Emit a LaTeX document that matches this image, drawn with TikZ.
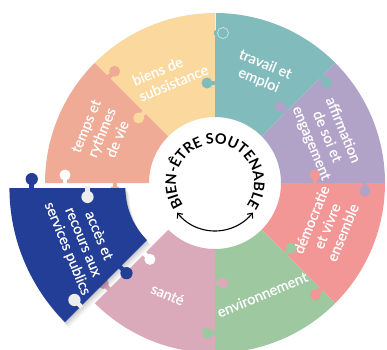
\documentclass[tikz,border=0pt]{standalone}
\usepackage{fontspec}
\setmainfont{Lato}
\newfontfamily\lblfont{Lato}[FakeBold=0.5]
\usetikzlibrary{calc,decorations.text,arrows.meta}
\definecolor{cyellow}{HTML}{FBD89E}
\definecolor{cteal}{HTML}{82BBBC}
\definecolor{cpurple}{HTML}{B1A2C8}
\definecolor{cred}{HTML}{F39796}
\definecolor{cgreen}{HTML}{9DC8A0}
\definecolor{cpink}{HTML}{DAA9BA}
\definecolor{cblue}{HTML}{233E96}
\definecolor{csalmon}{HTML}{EFAB96}
\definecolor{chole}{HTML}{EDEDED}
\newcommand\pzsector[3]{\fill[#3] (#1:66) arc[start angle=#1,end angle=#2,radius=66] -- (#2:170) arc[start angle=#2,end angle=#1,radius=170] -- cycle;}
\newcommand\pzknob[4]{%
  \fill[#4] ($(#1:#2)+(#3:8)$) circle[radius=5.5];
  \draw[#4,line width=4.5] ($(#1:#2)+(#3:-1.5)$) -- ($(#1:#2)+(#3:6)$);}
\tikzset{lbl/.style={text=white,font=\lblfont\fontsize{14.5}{17}\selectfont,align=center,inner sep=0pt}}
\begin{document}
\begin{tikzpicture}[x=1pt,y=1pt]
\useasboundingbox (-215,-166) rectangle (172,183);
% sectors
\pzsector{90}{135}{cyellow}
\pzsector{45}{90}{cteal}
\pzsector{0}{45}{cpurple}
\pzsector{-45}{0}{cred}
\pzsector{-90}{-45}{cgreen}
\pzsector{-135}{-90}{cpink}
\pzsector{135}{180}{csalmon}
% knobs
\pzknob{135}{150}{45}{csalmon}
\pzknob{135}{100}{225}{cyellow}
\pzknob{90}{150}{0}{cteal}
\draw[white,opacity=0.8,line width=0.6] (90:170) -- (90:153);
\draw[white,opacity=0.8,line width=0.5] ($(90:150)+(0:8)$) circle[radius=5.5];
\pzknob{90}{100}{180}{cteal}
\pzknob{45}{150}{-45}{cteal}
\pzknob{45}{100}{135}{cpurple}
\pzknob{0}{150}{-90}{cpurple}
\pzknob{0}{100}{90}{cred}
\pzknob{-45}{150}{-135}{cred}
\pzknob{-45}{100}{45}{cgreen}
\pzknob{-90}{150}{-180}{cgreen}
\pzknob{-90}{100}{0}{cpink}
\pzknob{-135}{150}{-225}{cpink}
\pzknob{180}{100}{270}{csalmon}
% holes left by the moved piece
\pzknob{180}{150}{90}{white}
\pzknob{-135}{100}{-45}{white}
% labels
\node[lbl,align=left,rotate=22.5] (biens) at (112.5:117) {biens de\\subsistance};
\node[lbl,rotate=-22.5] (travail) at (67:120) {travail et\\emploi};
\node[lbl,rotate=-67.5] (affirm) at (22.5:121) {affirmation\\de soi et\\engagement};
\node[lbl,rotate=67.5] (democ) at (-21:120) {démocratie\\et vivre\\ensemble};
\node[lbl,rotate=22.5] (env) at (-67:121) {environnement};
\node[lbl,rotate=-22.5] (sante) at (-113:121) {santé};
\node[lbl,rotate=67.5] (temps) at (156:124) {temps et\\rythmes\\de vie};
% shadow of moved piece
\foreach \o/\op in {1/0.07,2.2/0.06,3.4/0.05,4.6/0.04,5.8/0.03}{
  \begin{scope}[shift={(-16+0.7*\o,-5-\o)},scale=1.115]
    \pzsector{180}{225}{black,opacity=\op}
  \end{scope}}
% moved piece
\begin{scope}[shift={(-16,-5)},scale=1.115]
  \pzsector{180}{225}{cblue}
  \pzknob{180}{150}{90}{cblue}
  \pzknob{-135}{100}{-45}{cblue}
  \pzknob{180}{100}{270}{chole}
  \pzknob{-135}{150}{-225}{chole}
  \node[lbl,rotate=-67.5] (acces) at (-155:115) {accès et\\recours aux\\services publics};
\end{scope}
% centre
\path[decoration={text along path,text={|\fontsize{14.5}{15}\selectfont\bfseries|BIEN-ÊTRE SOUTENABLE},text align=center},decorate]
  (221:39) arc[start angle=221,end angle=-41,radius=39];
\draw[line width=1.1,{Straight Barb[length=4pt,width=7pt]}-{Straight Barb[length=4pt,width=7pt]}]
  (218:48) arc[start angle=218,end angle=322,radius=48];
\end{tikzpicture}
\end{document}
